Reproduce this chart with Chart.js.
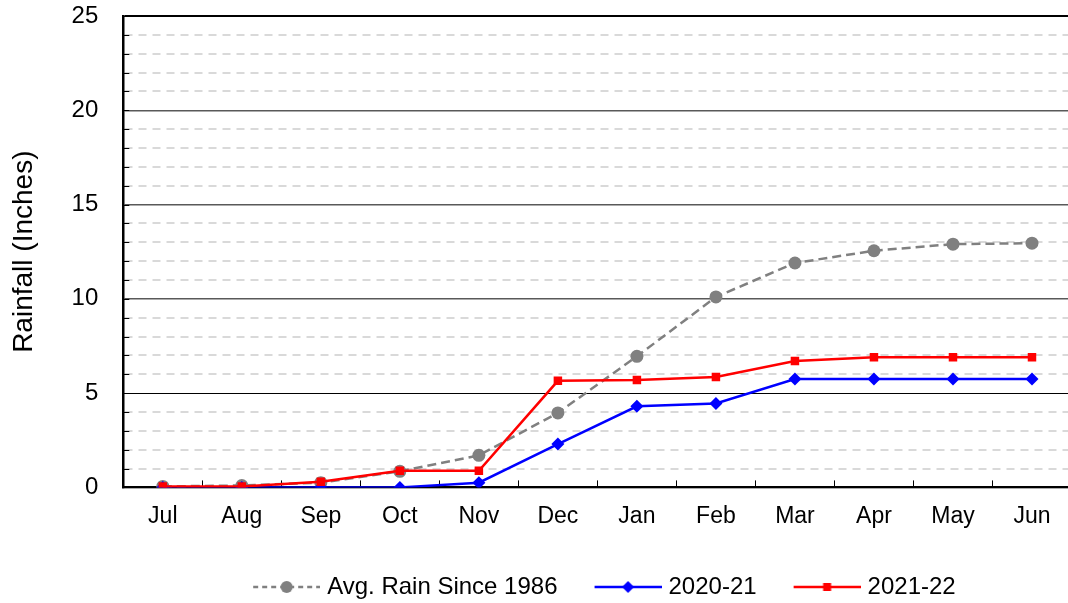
<!DOCTYPE html>
<html><head><meta charset="utf-8">
<script src="https://cdn.jsdelivr.net/npm/chart.js@4.4.1/dist/chart.umd.min.js"></script>
<style>
html,body{margin:0;padding:0;overflow:hidden;background:#fff;width:1068px;height:603px}
#wrap{position:absolute;left:0;top:0;width:1078px;height:609px}
</style></head>
<body><div id="wrap"><canvas id="c"></canvas></div>
<script>
const months = ['Jul','Aug','Sep','Oct','Nov','Dec','Jan','Feb','Mar','Apr','May','Jun'];
const avgRain = [0.05, 0.1, 0.25, 0.85, 1.7, 3.95, 6.95, 10.1, 11.9, 12.55, 12.9, 12.95];
const rain2020_21 = [0, 0, 0, 0, 0.25, 2.3, 4.3, 4.45, 5.75, 5.75, 5.75, 5.75];
const rain2021_22 = [0.05, 0.05, 0.3, 0.88, 0.88, 5.65, 5.7, 5.85, 6.7, 6.9, 6.9, 6.9];
const seriesNames = ['Avg. Rain Since 1986', '2020-21', '2021-22'];
const yTickLabels = ['0', '5', '10', '15', '20', '25'];

Chart.defaults.font.family = "'Liberation Sans', Arial, sans-serif";
Chart.defaults.color = '#000';

function legendIcon(color, shape, dashed) {
  const c = document.createElement('canvas');
  const blank = 19, len = 67;
  c.width = blank + len; c.height = 16;
  const g = c.getContext('2d');
  g.strokeStyle = color; g.fillStyle = color; g.lineWidth = 2.5;
  if (dashed) g.setLineDash([5, 4]);
  g.beginPath(); g.moveTo(blank, 8); g.lineTo(blank + len, 8); g.stroke();
  g.setLineDash([]);
  const cx = blank + len / 2;
  g.beginPath();
  if (shape === 'circle') { g.arc(cx, 8, 6, 0, Math.PI * 2); }
  else if (shape === 'diamond') { g.moveTo(cx, 2); g.lineTo(cx + 6, 8); g.lineTo(cx, 14); g.lineTo(cx - 6, 8); g.closePath(); }
  else { g.rect(cx - 4, 4, 8, 8); }
  g.fill();
  return c;
}
const icons = [legendIcon('#808080', 'circle', true), legendIcon('#0000ff', 'diamond', false), legendIcon('#ff0000', 'square', false)];

const innerTicks = {
  id: 'innerTicks',
  afterDraw(chart) {
    const { ctx, chartArea, scales: { y } } = chart;
    ctx.save();
    ctx.strokeStyle = '#000'; ctx.lineWidth = 1;
    y.ticks.forEach((t) => {
      const py = Math.round(y.getPixelForValue(t.value)) + 0.5;
      ctx.beginPath(); ctx.moveTo(chartArea.left, py); ctx.lineTo(chartArea.left + 6, py); ctx.stroke();
    });
    ctx.restore();
  }
};

function gridColor(ctx) {
  if (!ctx.tick) return '#d9d9d9';
  const v = ctx.tick.value;
  if (v === 5 || v === 25) return '#000';
  if (v % 5 === 0) return '#595959';
  return '#d9d9d9';
}
function gridWidth(ctx) {
  if (!ctx.tick) return 1;
  const v = ctx.tick.value;
  if (v === 25) return 2;
  if (v === 5) return 1;
  if (v % 5 === 0) return 1.5;
  return 2;
}

new Chart(document.getElementById('c'), {
  type: 'line',
  data: {
    labels: months,
    datasets: [
      { label: seriesNames[0], data: avgRain, borderColor: '#808080', backgroundColor: '#808080', borderWidth: 2.5, borderDash: [9, 5],
        pointStyle: 'circle', pointRadius: 6.5, pointBorderWidth: 0, order: 3, tension: 0 },
      { label: seriesNames[1], data: rain2020_21, borderColor: '#0000ff', backgroundColor: '#0000ff', borderWidth: 2.5,
        pointStyle: 'rectRot', pointRadius: 6.5, pointBorderWidth: 0, order: 2, tension: 0 },
      { label: seriesNames[2], data: rain2021_22, borderColor: '#ff0000', backgroundColor: '#ff0000', borderWidth: 2.5,
        pointStyle: 'rect', pointRadius: 6, pointBorderWidth: 0, order: 1, tension: 0 }
    ]
  },
  options: {
    responsive: true, maintainAspectRatio: false, animation: false,
    layout: { padding: { top: 16, left: 0, right: 0, bottom: 0 } },
    plugins: {
      tooltip: { enabled: false },
      legend: {
        position: 'bottom', fullSize: false,
        labels: {
          usePointStyle: true, pointStyleWidth: 76, padding: 23, font: { size: 24 }, color: '#000',
          generateLabels: (chart) => chart.data.datasets.map((ds, i) => ({
            text: ds.label, pointStyle: icons[i], datasetIndex: i, hidden: false,
            lineWidth: 0, strokeStyle: 'rgba(0,0,0,0)', fillStyle: 'rgba(0,0,0,0)', fontColor: '#000'
          }))
        }
      }
    },
    scales: {
      x: {
        offset: true,
        grid: { offset: true, drawOnChartArea: false, tickLength: -7, tickColor: '#000', tickWidth: 1 },
        border: { color: '#000', width: 2 },
        ticks: { padding: 22, font: { size: 23 }, maxRotation: 0, autoSkip: false }
      },
      y: {
        min: 0, max: 25,
        ticks: { stepSize: 1, padding: 0, font: { size: 24 }, autoSkip: false,
          callback: (v) => (v % 5 === 0 ? yTickLabels[v / 5] : '') },
        grid: { color: gridColor, lineWidth: gridWidth, tickLength: 25, tickColor: 'rgba(0,0,0,0)', tickWidth: 1 },
        border: { display: true, color: '#000', width: 2.5,
          dash: (ctx) => (ctx.tick && ctx.tick.value % 5 !== 0 ? [8, 6] : []) },
        title: { display: true, text: 'Rainfall (Inches)', font: { size: 28 }, color: '#000', padding: { top: 7, bottom: 31 } }
      }
    }
  },
  plugins: [innerTicks]
});
</script>
</body></html>
